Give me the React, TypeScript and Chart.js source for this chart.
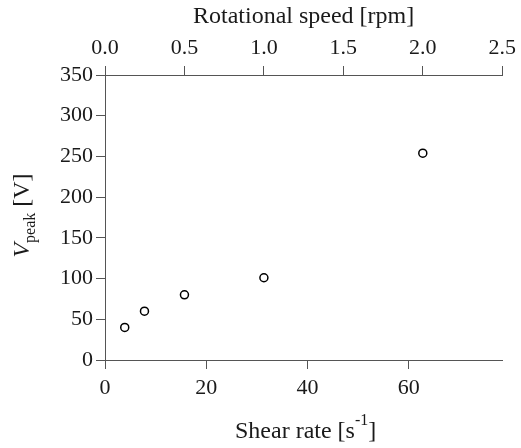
import React, { useEffect, useRef } from "react";
import { Chart, registerables } from "chart.js";

Chart.register(...registerables);

const rotationalSpeed = [0.125, 0.25, 0.5, 1.0, 2.0];
const shearRate = [3.9, 7.8, 15.7, 31.4, 62.8];
const vPeak = [40, 60, 80, 101, 254];

const topTicks = [0, 0.5, 1.0, 1.5, 2.0, 2.5];
const bottomTicks = [0, 20, 40, 60];
const leftTicks = [0, 50, 100, 150, 200, 250, 300, 350];

const SERIF = "'Liberation Serif', 'Times New Roman', serif";
const TEXT = "#1a1a1a";
const AXIS = "#555555";

const titlesPlugin = {
  id: "titles",
  afterDraw(chart: any) {
    const ctx = chart.ctx;
    const ca = chart.chartArea;
    const cx = (ca.left + ca.right) / 2;
    ctx.save();
    ctx.fillStyle = TEXT;
    ctx.textBaseline = "alphabetic";
    // top title
    ctx.font = `24px ${SERIF}`;
    ctx.textAlign = "center";
    ctx.fillText("Rotational speed [rpm]", cx, 23);

    // bottom title with superscript
    const main1 = "Shear rate [s";
    const sup = "-1";
    const close = "]";
    ctx.font = `24px ${SERIF}`;
    const w1 = ctx.measureText(main1).width;
    const w3 = ctx.measureText(close).width;
    ctx.font = `16px ${SERIF}`;
    const w2 = ctx.measureText(sup).width;
    const total = w1 + w2 + w3;
    let x = cx + 2 - total / 2;
    const by = 438;
    ctx.textAlign = "left";
    ctx.font = `24px ${SERIF}`;
    ctx.fillText(main1, x, by);
    x += w1;
    ctx.font = `16px ${SERIF}`;
    ctx.fillText(sup, x, by - 13);
    x += w2;
    ctx.font = `24px ${SERIF}`;
    ctx.fillText(close, x, by);

    // y title rotated: V_peak [V]
    ctx.translate(29, (ca.top + ca.bottom) / 2 - 2);
    ctx.rotate(-Math.PI / 2);
    const a = "V";
    const b = "peak";
    const c = " [V]";
    ctx.font = `italic 24px ${SERIF}`;
    const wa = ctx.measureText(a).width;
    ctx.font = `16px ${SERIF}`;
    const wb = ctx.measureText(b).width;
    ctx.font = `24px ${SERIF}`;
    const wc = ctx.measureText(c).width;
    let tx = -(wa + wb + wc) / 2;
    ctx.font = `italic 24px ${SERIF}`;
    ctx.fillText(a, tx, 0);
    tx += wa;
    ctx.font = `16px ${SERIF}`;
    ctx.fillText(b, tx, 6);
    tx += wb;
    ctx.font = `24px ${SERIF}`;
    ctx.fillText(c, tx, 0);
    ctx.restore();
  },
};

export default function App() {
  const ref = useRef<HTMLCanvasElement | null>(null);
  useEffect(() => {
    if (!ref.current) return;
    const tickFont = { family: SERIF, size: 22 };
    const chart = new Chart(ref.current, {
      type: "scatter",
      data: {
        datasets: [
          {
            label: "Vpeak",
            data: shearRate.map((s, i) => ({ x: s, y: vPeak[i], rpm: rotationalSpeed[i] })),
            xAxisID: "x",
            yAxisID: "y",
            pointRadius: 4,
            pointHoverRadius: 4,
            pointBorderWidth: 1.5,
            pointBackgroundColor: "#ffffff",
            pointBorderColor: "#000000",
            showLine: false,
          },
        ],
      },
      options: {
        animation: false,
        responsive: false,
        layout: { autoPadding: false, padding: { left: 0, right: 16, top: 0, bottom: 0 } },
        plugins: { legend: { display: false }, tooltip: { enabled: false } },
        scales: {
          x: {
            type: "linear",
            position: "bottom",
            min: 0,
            max: 78.5,
            afterBuildTicks: (s: any) => {
              s.ticks = bottomTicks.map((v) => ({ value: v }));
            },
            ticks: { font: tickFont, color: TEXT, padding: 6, maxRotation: 0 },
            grid: { drawOnChartArea: false, tickLength: 9, color: AXIS },
            border: { color: AXIS, width: 1 },
            afterFit: (s: any) => {
              s.height = 88;
            },
          },
          x2: {
            type: "linear",
            position: "top",
            min: 0,
            max: 2.5,
            afterBuildTicks: (s: any) => {
              s.ticks = topTicks.map((v) => ({ value: v }));
            },
            ticks: {
              font: tickFont,
              color: TEXT,
              padding: 5,
              maxRotation: 0,
              callback: (v: any) => Number(v).toFixed(1),
            },
            grid: { drawOnChartArea: false, tickLength: 9, color: AXIS },
            border: { color: AXIS, width: 1 },
            afterFit: (s: any) => {
              s.height = 75;
            },
          },
          y: {
            type: "linear",
            position: "left",
            min: 0,
            max: 350,
            afterBuildTicks: (s: any) => {
              s.ticks = leftTicks.map((v) => ({ value: v }));
            },
            ticks: { font: tickFont, color: TEXT, padding: 3 },
            grid: { drawOnChartArea: false, tickLength: 9, color: AXIS },
            border: { color: AXIS, width: 1 },
            afterFit: (s: any) => {
              s.width = 105;
            },
          },
        },
      },
      plugins: [titlesPlugin],
    });
    return () => chart.destroy();
  }, []);
  return (
    <div style={{ position: "fixed", left: 0, top: 0, width: 521, height: 448, background: "#fff" }}>
      <canvas ref={ref} width={521} height={448} style={{ width: 521, height: 448 }} />
    </div>
  );
}
